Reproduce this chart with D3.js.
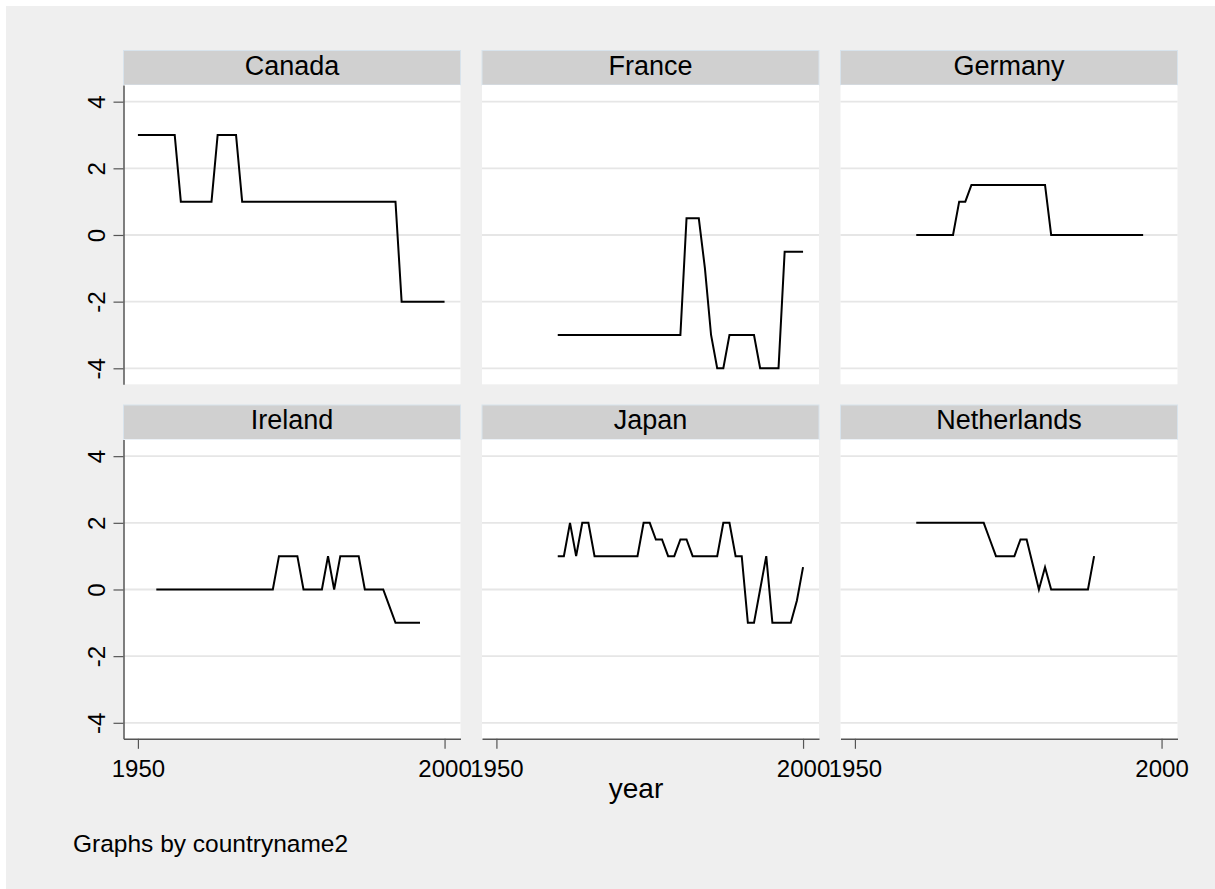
<!DOCTYPE html>
<html>
<head>
<meta charset="utf-8">
<script src="https://cdn.jsdelivr.net/npm/d3@7"></script>
<style>
  body { margin: 0; background: #fff; }
  svg { display: block; font-family: "Liberation Sans", Arial, sans-serif; }
</style>
</head>
<body>
<svg id="chart"></svg>
<script>
// countries in panel order
const countries = ["Canada", "France", "Germany", "Ireland", "Japan", "Netherlands"]
// first year of each series (one value per year after that)
const firstYear = [1950, 1960, 1960, 1953, 1960, 1960]

const canada = [3, 3, 3, 3, 3, 3, 3, 1, 1, 1, 1, 1, 1, 3, 3, 3, 3,
    1, 1, 1, 1, 1, 1, 1, 1, 1, 1, 1, 1, 1, 1, 1, 1, 1, 1, 1, 1, 1, 1, 1, 1, 1, 1,
    -2, -2, -2, -2, -2, -2, -2, -2]
const france = [-3, -3, -3, -3, -3, -3, -3, -3, -3, -3, -3, -3, -3, -3, -3, -3, -3, -3, -3, -3, -3,
    0.5, 0.5, 0.5, -1, -3, -4, -4, -3, -3, -3, -3, -3, -4, -4, -4, -4, -0.5, -0.5, -0.5, -0.5]
const germany = [0, 0, 0, 0, 0, 0, 0, 1, 1,
    1.5, 1.5, 1.5, 1.5, 1.5, 1.5, 1.5, 1.5, 1.5, 1.5, 1.5, 1.5, 1.5,
    0, 0, 0, 0, 0, 0, 0, 0, 0, 0, 0, 0, 0, 0, 0, 0]
const ireland = [0, 0, 0, 0, 0, 0, 0, 0, 0, 0, 0, 0, 0, 0, 0, 0, 0, 0, 0, 0,
    1, 1, 1, 1, 0, 0, 0, 0, 1, 0, 1, 1, 1, 1, 0, 0, 0, 0, -0.5, -1, -1, -1, -1, -1]
const japan = [1, 1, 2, 1, 2, 2, 1, 1, 1, 1, 1, 1, 1, 1, 2, 2, 1.5, 1.5, 1, 1, 1.5, 1.5,
    1, 1, 1, 1, 1, 2, 2, 1, 1, -1, -1, 0, 1, -1, -1, -1, -1, -0.33, 0.67]
const netherlands = [2, 2, 2, 2, 2, 2, 2, 2, 2, 2, 2, 2, 1.5, 1, 1, 1, 1, 1.5, 1.5,
    0.75, 0, 0.67, 0, 0, 0, 0, 0, 0, 0, 1]

const seriesValues = [canada, france, germany, ireland, japan, netherlands]

const yTicks = [-4, -2, 0, 2, 4]
const xTicks = [1950, 2000]
const xTitle = "year"
const noteText = "Graphs by countryname2"

const width = 1215
const height = 889
const svg = d3.select("#chart")
    .attr("width", width)
    .attr("height", height)

svg.append("rect")
    .attr("x", 6).attr("y", 6)
    .attr("width", width - 6).attr("height", height - 6)
    .attr("fill", "#efefef")

const colLeft = [123.5, 482, 840.5]
const rowTop = [50.5, 405]
const panelW = 337
const stripH = 34.5
const plotH = 299.3

const x = d3.scaleLinear()
    .domain([1947.65, 2002.6])
    .range([0, panelW])
const y = d3.scaleLinear()
    .domain([-4.48, 4.5])
    .range([plotH, 0])

const line = d3.line()
    .x(d => x(d.year))
    .y(d => y(d.value))

countries.forEach((name, i) => {
    const col = i % 3
    const row = Math.floor(i / 3)
    const data = seriesValues[i].map((v, k) => ({ year: firstYear[i] + k, value: v }))

    const panel = svg.append("g")
        .attr("transform", `translate(${colLeft[col]},${rowTop[row]})`)

    // strip header
    panel.append("rect")
        .attr("width", panelW)
        .attr("height", stripH)
        .attr("fill", "#d0d0d0")
        .attr("stroke", "#d8e3ec")
        .attr("stroke-width", 1)
    panel.append("text")
        .attr("x", panelW / 2)
        .attr("y", 24)
        .attr("text-anchor", "middle")
        .attr("font-size", 27)
        .attr("fill", "#000")
        .text(name)

    const plot = panel.append("g")
        .attr("transform", `translate(0,${stripH})`)

    plot.append("rect")
        .attr("width", panelW)
        .attr("height", plotH)
        .attr("fill", "#fff")

    // grid lines
    plot.selectAll(".grid")
        .data(yTicks)
        .enter()
        .append("line")
        .attr("x1", 0)
        .attr("x2", panelW)
        .attr("y1", d => y(d))
        .attr("y2", d => y(d))
        .attr("stroke", "#e6e6e6")
        .attr("stroke-width", 1.8)

    plot.append("path")
        .datum(data)
        .attr("fill", "none")
        .attr("stroke", "#000")
        .attr("stroke-width", 2)
        .attr("stroke-linejoin", "miter")
        .attr("d", line)

    if (col === 0) {
        plot.append("g")
            .call(d3.axisLeft(y).tickValues(yTicks).tickFormat(d => String(d)).tickSize(10).tickSizeOuter(0))
            .call(g => g.select(".domain").attr("stroke", "#555").attr("stroke-width", 1.5))
            .call(g => g.selectAll(".tick line").attr("stroke", "#555").attr("stroke-width", 1.2))
            .call(g => g.selectAll(".tick text")
                .attr("transform", "rotate(-90)")
                .attr("x", 0)
                .attr("y", -19)
                .attr("dy", null)
                .attr("text-anchor", "middle")
                .attr("font-size", 24)
                .attr("font-family", "Liberation Sans, Arial, sans-serif")
                .attr("fill", "#000"))
    }

    if (row === 1) {
        plot.append("g")
            .attr("transform", `translate(0,${plotH})`)
            .call(d3.axisBottom(x).tickValues(xTicks).tickFormat(d3.format("d")).tickSize(10).tickSizeOuter(0))
            .call(g => g.select(".domain").attr("stroke", "#555").attr("stroke-width", 1.5))
            .call(g => g.selectAll(".tick line").attr("stroke", "#555").attr("stroke-width", 1.2))
            .call(g => g.selectAll(".tick text")
                .attr("y", 38)
                .attr("dy", null)
                .attr("font-size", 24)
                .attr("font-family", "Liberation Sans, Arial, sans-serif")
                .attr("fill", "#000"))
    }
})

svg.append("text")
    .attr("x", 636)
    .attr("y", 798)
    .attr("text-anchor", "middle")
    .attr("font-size", 28)
    .text(xTitle)

svg.append("text")
    .attr("x", 73)
    .attr("y", 852)
    .attr("font-size", 24.5)
    .text(noteText)
</script>
</body>
</html>
